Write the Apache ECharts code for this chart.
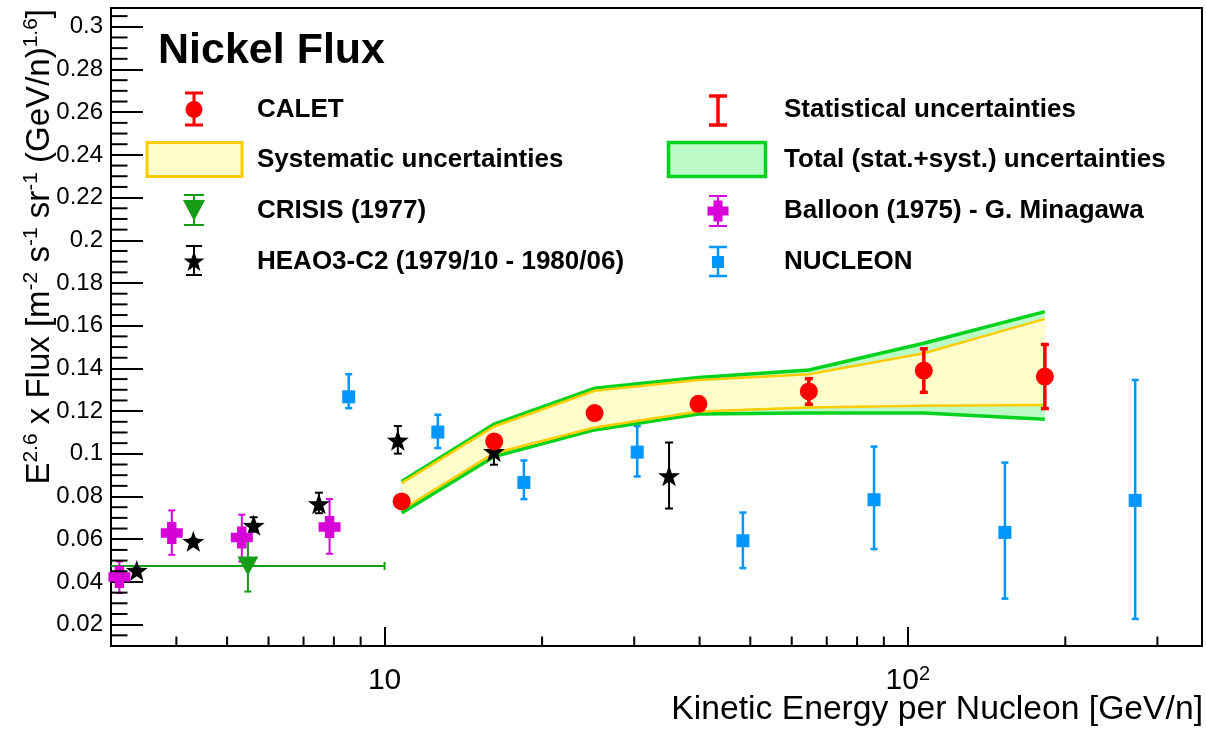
<!DOCTYPE html>
<html><head><meta charset="utf-8">
<script src="https://cdn.jsdelivr.net/npm/echarts@6/dist/echarts.min.js"></script>
<style>html,body{margin:0;padding:0;background:#fff}#c{width:1206px;height:730px}</style>
</head><body><div id="c"></div>
<script>
const FONT = '"Liberation Sans", Arial, Helvetica, sans-serif';

// ---------- data ----------
// CALET
const caletE    = [10.78, 16.2, 25.2, 39.8, 64.7, 107.3, 182.8];
const caletFlux = [0.0777, 0.1058, 0.1191, 0.1234, 0.1292, 0.1390, 0.1362];
const caletStat = [0.0015, 0.002, 0.0025, 0.003, 0.006, 0.0102, 0.015];
const sysLow    = [0.0738, 0.1003, 0.1123, 0.1198, 0.1217, 0.1225, 0.1229];
const sysHigh   = [0.0863, 0.1128, 0.1295, 0.1346, 0.1373, 0.1471, 0.1632];
const totLow    = [0.0723, 0.0987, 0.1112, 0.1186, 0.1191, 0.1191, 0.1162];
const totHigh   = [0.0870, 0.1139, 0.1307, 0.1357, 0.1393, 0.1518, 0.1666];
// NUCLEON
const nucE    = [8.54, 12.64, 18.46, 30.4, 48.4, 86.2, 153.3, 272];
const nucFlux = [0.1267, 0.1102, 0.0866, 0.1008, 0.0593, 0.0785, 0.0632, 0.0782];
const nucLow  = [0.1214, 0.1027, 0.0788, 0.0894, 0.0465, 0.0554, 0.0322, 0.0227];
const nucHigh = [0.1373, 0.1183, 0.0969, 0.1130, 0.0725, 0.1034, 0.0959, 0.1346];
// HEAO3-C2
const heaoE    = [3.36, 4.31, 5.62, 7.49, 10.6, 16.18, 34.97];
const heaoFlux = [0.0454, 0.0590, 0.0665, 0.0766, 0.1064, 0.1011, 0.0897];
const heaoLow  = [0.0444, 0.0578, 0.0635, 0.0722, 0.1001, 0.0949, 0.0744];
const heaoHigh = [0.0464, 0.0602, 0.0703, 0.0818, 0.1130, 0.1073, 0.1053];
// Balloon (1975)
const balE    = [3.113, 3.92, 5.335, 7.85];
const balFlux = [0.0423, 0.0629, 0.0608, 0.0657];
const balLow  = [0.0348, 0.0527, 0.0496, 0.0532];
const balHigh = [0.0496, 0.0735, 0.0715, 0.0788];
// CRISIS (1977)
const crisE    = [5.48];
const crisFlux = [0.0475];
const crisLow  = [0.0355];
const crisHigh = [0.0595];
const crisELow = [2.5];
const crisEHigh= [10];

// axes
const xMin = 3, xMax = 365, yMin = 0.01, yMax = 0.3088;
const xMajorTicks = [10, 100];
const xMajorLabels = ['{n|10}', '{n|10}{s|2}'];
const xMinorTicks = [4, 5, 6, 7, 8, 9, 20, 30, 40, 50, 60, 70, 80, 90, 200, 300];

// legend labels
const legendLeft  = ['CALET', 'Systematic uncertainties', 'CRISIS (1977)', 'HEAO3-C2 (1979/10 - 1980/06)'];
const legendRight = ['Statistical uncertainties', 'Total (stat.+syst.) uncertainties', 'Balloon (1975) - G. Minagawa', 'NUCLEON'];

// ---------- colours ----------
const RED = '#ff0000', BLUE = '#0096ff', MAG = '#d800d8', CGREEN = '#169c16';
const YEL_LINE = '#ffcc00', YEL_FILL = '#ffffcc', GRN_LINE = '#00d21e', GRN_FILL = '#bcfbc8';

const STAR = 'path://M0,-10 L2.351,-3.236 L9.511,-3.09 L3.804,1.236 L5.878,8.09 L0,4 L-5.878,8.09 L-3.804,1.236 L-9.511,-3.09 L-2.351,-3.236 Z';
const CROSS = 'path://M-3,-7 L3,-7 L3,-3 L7,-3 L7,3 L3,3 L3,7 L-3,7 L-3,3 L-7,3 L-7,-3 L-3,-3 Z';

function errBar(color, lw, cap) {
  return function (params, api) {
    const x = api.value(0);
    const lo = api.coord([x, api.value(2)]);
    const hi = api.coord([x, api.value(3)]);
    const st = { stroke: color, lineWidth: lw };
    return { type: 'group', children: [
      { type: 'line', shape: { x1: lo[0], y1: lo[1], x2: hi[0], y2: hi[1] }, style: st },
      { type: 'line', shape: { x1: lo[0] - cap, y1: lo[1], x2: lo[0] + cap, y2: lo[1] }, style: st },
      { type: 'line', shape: { x1: hi[0] - cap, y1: hi[1], x2: hi[0] + cap, y2: hi[1] }, style: st }
    ]};
  };
}

function bandRender(params, api) {
  if (params.dataIndex !== 0) return null;
  const pts = (arr) => caletE.map((e, i) => api.coord([e, arr[i]]));
  const tu = pts(totHigh), tl = pts(totLow), su = pts(sysHigh), sl = pts(sysLow);
  return { type: 'group', children: [
    { type: 'polygon', shape: { points: tu.concat(tl.slice().reverse()) }, style: { fill: GRN_FILL } },
    { type: 'polygon', shape: { points: su.concat(sl.slice().reverse()) }, style: { fill: YEL_FILL } },
    { type: 'polyline', shape: { points: tu }, style: { stroke: GRN_LINE, lineWidth: 3.5, fill: null } },
    { type: 'polyline', shape: { points: tl }, style: { stroke: GRN_LINE, lineWidth: 3.5, fill: null } },
    { type: 'polyline', shape: { points: su }, style: { stroke: YEL_LINE, lineWidth: 2.5, fill: null } },
    { type: 'polyline', shape: { points: sl }, style: { stroke: YEL_LINE, lineWidth: 2.5, fill: null } }
  ]};
}

function crisisRender(params, api) {
  const cs = params.coordSys;
  const x = api.value(0), y = api.value(1);
  const lo = api.coord([x, api.value(2)]);
  const hi = api.coord([x, api.value(3)]);
  const xl = api.coord([api.value(4), y]);
  const xh = api.coord([api.value(5), y]);
  const st = { stroke: CGREEN, lineWidth: 2 };
  const x1 = Math.max(xl[0], cs.x);
  return { type: 'group', children: [
    { type: 'line', shape: { x1: x1, y1: xl[1], x2: xh[0], y2: xh[1] }, style: st },
    { type: 'line', shape: { x1: xh[0], y1: xh[1] - 4, x2: xh[0], y2: xh[1] + 4 }, style: st },
    { type: 'line', shape: { x1: lo[0], y1: lo[1], x2: hi[0], y2: hi[1] }, style: st },
    { type: 'line', shape: { x1: lo[0] - 3.5, y1: lo[1], x2: lo[0] + 3.5, y2: lo[1] }, style: st },
    { type: 'line', shape: { x1: hi[0] - 3.5, y1: hi[1], x2: hi[0] + 3.5, y2: hi[1] }, style: st }
  ]};
}

function xMinorRender(params, api) {
  const cs = params.coordSys;
  const p = api.coord([api.value(0), api.value(1)]);
  const yb = cs.y + cs.height;
  return { type: 'line', shape: { x1: p[0], y1: yb, x2: p[0], y2: yb - 9.5 }, style: { stroke: '#000', lineWidth: 2 } };
}
function yMinorRender(params, api) {
  const cs = params.coordSys;
  const p = api.coord([api.value(0), api.value(1)]);
  return { type: 'line', shape: { x1: cs.x, y1: p[1], x2: cs.x + 16.5, y2: p[1] }, style: { stroke: '#000', lineWidth: 2 } };
}

// minor y tick positions (every 0.005, skipping the labelled 0.02 steps)
const yMinorTicks = [];
for (let k = 3; k <= 61; k++) { if (k % 4 !== 0) yMinorTicks.push(+(k * 0.005).toFixed(3)); }

// ---------- legend graphics ----------
function vbarG(cx, y1, y2, cap, color, lw) {
  const st = { stroke: color, lineWidth: lw };
  return [
    { type: 'line', shape: { x1: cx, y1: y1, x2: cx, y2: y2 }, style: st, z: 100 },
    { type: 'line', shape: { x1: cx - cap, y1: y1, x2: cx + cap, y2: y1 }, style: st, z: 100 },
    { type: 'line', shape: { x1: cx - cap, y1: y2, x2: cx + cap, y2: y2 }, style: st, z: 100 }
  ];
}
function polyAt(cx, cy, s, pts) {
  return pts.map(p => [cx + p[0] * s, cy + p[1] * s]);
}
const starPts = [[0,-10],[2.351,-3.236],[9.511,-3.09],[3.804,1.236],[5.878,8.09],[0,4],[-5.878,8.09],[-3.804,1.236],[-9.511,-3.09],[-2.351,-3.236]];
const crossPts = [[-3,-7],[3,-7],[3,-3],[7,-3],[7,3],[3,3],[3,7],[-3,7],[-3,3],[-7,3],[-7,-3],[-3,-3]];

const rowY = [109.5, 160, 210.5, 261.5];
const cx1 = 194, cx2 = 718, tx1 = 257, tx2 = 784;
const graphics = [];
// CALET
graphics.push(...vbarG(cx1, 93, 125, 9, RED, 3));
graphics.push({ type: 'circle', shape: { cx: cx1, cy: rowY[0], r: 8.5 }, style: { fill: RED }, z: 101 });
// Systematic
graphics.push({ type: 'rect', shape: { x: 147, y: 142.5, width: 95, height: 34 }, style: { fill: YEL_FILL, stroke: YEL_LINE, lineWidth: 3 }, z: 100 });
// CRISIS
graphics.push(...vbarG(cx1, 195, 225, 10, CGREEN, 2));
graphics.push({ type: 'polygon', shape: { points: [[183, 200], [205, 200], [194, 221]] }, style: { fill: CGREEN }, z: 101 });
// HEAO
graphics.push(...vbarG(cx1, 246, 275, 8, '#000', 2));
graphics.push({ type: 'polygon', shape: { points: polyAt(cx1, 262, 1.1, starPts) }, style: { fill: '#000' }, z: 101 });
// Statistical
graphics.push(...vbarG(cx2, 96, 125, 9, RED, 3.5));
// Total
graphics.push({ type: 'rect', shape: { x: 668.5, y: 142.5, width: 97, height: 34 }, style: { fill: GRN_FILL, stroke: GRN_LINE, lineWidth: 3.5 }, z: 100 });
// Balloon
graphics.push(...vbarG(cx2, 196, 226, 9, MAG, 2));
graphics.push({ type: 'polygon', shape: { points: polyAt(cx2, 211, 1.5, crossPts) }, style: { fill: MAG }, z: 101 });
// NUCLEON
graphics.push(...vbarG(cx2, 247, 276, 9, BLUE, 2.5));
graphics.push({ type: 'rect', shape: { x: cx2 - 6, y: 256, width: 12, height: 12 }, style: { fill: BLUE }, z: 101 });
// legend texts
legendLeft.forEach((t, i) => graphics.push({ type: 'text', x: tx1, y: rowY[i], z: 100,
  style: { text: t, fontFamily: FONT, fontSize: 26, fontWeight: 'bold', fill: '#000', align: 'left', verticalAlign: 'middle' } }));
legendRight.forEach((t, i) => graphics.push({ type: 'text', x: tx2, y: rowY[i], z: 100,
  style: { text: t, fontFamily: FONT, fontSize: 26, fontWeight: 'bold', fill: '#000', align: 'left', verticalAlign: 'middle' } }));
// axis titles
graphics.push({ type: 'text', x: 1203, y: 710, z: 100,
  style: { text: 'Kinetic Energy per Nucleon [GeV/n]', fontFamily: FONT, fontSize: 33.7, fill: '#000', align: 'right', verticalAlign: 'middle' } });
graphics.push({ type: 'text', x: 38.5, y: 9, rotation: Math.PI / 2, z: 100,
  style: {
    text: '{b|E}{s|2.6}{b| x Flux [m}{s|-2}{b| s}{s|-1}{b| sr}{s|-1}{b| (GeV/n)}{s|1.6}{b|]}',
    fontFamily: FONT, fontSize: 33, fill: '#000', align: 'right', verticalAlign: 'middle',
    rich: {
      b: { fontFamily: FONT, fontSize: 33, lineHeight: 36, verticalAlign: 'bottom', fill: '#000' },
      s: { fontFamily: FONT, fontSize: 21, lineHeight: 6, verticalAlign: 'top', fill: '#000' }
    }
  } });

const chart = echarts.init(document.getElementById('c'), null, { renderer: 'canvas' });
chart.setOption({
  animation: false,
  backgroundColor: '#ffffff',
  title: { text: 'Nickel Flux', left: 153, top: 25, textStyle: { fontFamily: FONT, fontSize: 43, fontWeight: 'bold', color: '#000' } },
  grid: { left: 111, right: 4, top: 8, bottom: 84, show: true, borderColor: '#000', borderWidth: 2, backgroundColor: 'transparent', containLabel: false, outerBoundsMode: 'none' },
  xAxis: {
    type: 'log', logBase: 10, min: xMin, max: xMax,
    axisLine: { show: true, lineStyle: { color: '#000', width: 2 } },
    axisTick: { show: true, inside: true, length: 19, lineStyle: { color: '#000', width: 2 } },
    minorTick: { show: false }, splitLine: { show: false },
    axisLabel: {
      show: true, margin: 18, color: '#000', fontFamily: FONT, fontSize: 30, showMinLabel: false, showMaxLabel: false,
      formatter: function (v) {
        for (let i = 0; i < xMajorTicks.length; i++) if (Math.abs(v - xMajorTicks[i]) < 1e-6 * xMajorTicks[i]) return xMajorLabels[i];
        return '';
      },
      rich: {
        n: { fontFamily: FONT, fontSize: 30, lineHeight: 32, verticalAlign: 'bottom', color: '#000' },
        s: { fontFamily: FONT, fontSize: 20, lineHeight: 14, verticalAlign: 'top', color: '#000' }
      }
    }
  },
  yAxis: {
    type: 'value', min: yMin, max: yMax, splitNumber: 15,
    axisLine: { show: true, lineStyle: { color: '#000', width: 2 } },
    axisTick: { show: true, inside: true, length: 32, lineStyle: { color: '#000', width: 2 } },
    minorTick: { show: false }, splitLine: { show: false },
    axisLabel: { show: true, margin: 8, color: '#000', fontFamily: FONT, fontSize: 24, showMinLabel: false, showMaxLabel: false }
  },
  graphic: graphics,
  series: [
    { type: 'custom', name: 'xminor', silent: true, z: 10, renderItem: xMinorRender, data: xMinorTicks.map(v => [v, yMin]) },
    { type: 'custom', name: 'yminor', silent: true, z: 10, renderItem: yMinorRender, data: yMinorTicks.map(v => [xMin, v]) },
    { type: 'custom', name: 'NUCLEON err', silent: true, renderItem: errBar(BLUE, 2.5, 3.5),
      data: nucE.map((e, i) => [e, nucFlux[i], nucLow[i], nucHigh[i]]) },
    { type: 'scatter', name: 'NUCLEON', silent: true, symbol: 'rect', symbolSize: 13, itemStyle: { color: BLUE, opacity: 1 },
      data: nucE.map((e, i) => [e, nucFlux[i]]) },
    { type: 'custom', name: 'bands', silent: true, renderItem: bandRender,
      data: caletE.map((e, i) => [e, totLow[i], totHigh[i], sysLow[i], sysHigh[i]]) },
    { type: 'custom', name: 'CRISIS err', silent: true, renderItem: crisisRender,
      data: crisE.map((e, i) => [e, crisFlux[i], crisLow[i], crisHigh[i], crisELow[i], crisEHigh[i]]) },
    { type: 'scatter', name: 'CRISIS (1977)', silent: true, symbol: 'triangle', symbolRotate: 180, symbolSize: [21, 19], itemStyle: { color: CGREEN, opacity: 1 },
      data: crisE.map((e, i) => [e, crisFlux[i]]) },
    { type: 'custom', name: 'HEAO err', silent: true, renderItem: errBar('#000', 2, 4),
      data: heaoE.map((e, i) => [e, heaoFlux[i], heaoLow[i], heaoHigh[i]]) },
    { type: 'scatter', name: 'HEAO3-C2', silent: true, symbol: STAR, symbolSize: [22, 21], itemStyle: { color: '#000', opacity: 1 },
      data: heaoE.map((e, i) => [e, heaoFlux[i]]) },
    { type: 'custom', name: 'Balloon err', silent: true, renderItem: errBar(MAG, 2, 3.5),
      data: balE.map((e, i) => [e, balFlux[i], balLow[i], balHigh[i]]) },
    { type: 'scatter', name: 'Balloon (1975)', silent: true, symbol: CROSS, symbolSize: 22, itemStyle: { color: MAG, opacity: 1 },
      data: balE.map((e, i) => [e, balFlux[i]]) },
    { type: 'custom', name: 'CALET stat', silent: true, renderItem: errBar(RED, 3.5, 4),
      data: caletE.map((e, i) => [e, caletFlux[i], caletFlux[i] - caletStat[i], caletFlux[i] + caletStat[i]]) },
    { type: 'scatter', name: 'CALET', silent: true, symbol: 'circle', symbolSize: 18, itemStyle: { color: RED, opacity: 1 },
      data: caletE.map((e, i) => [e, caletFlux[i]]) }
  ]
});
</script>
</body></html>
